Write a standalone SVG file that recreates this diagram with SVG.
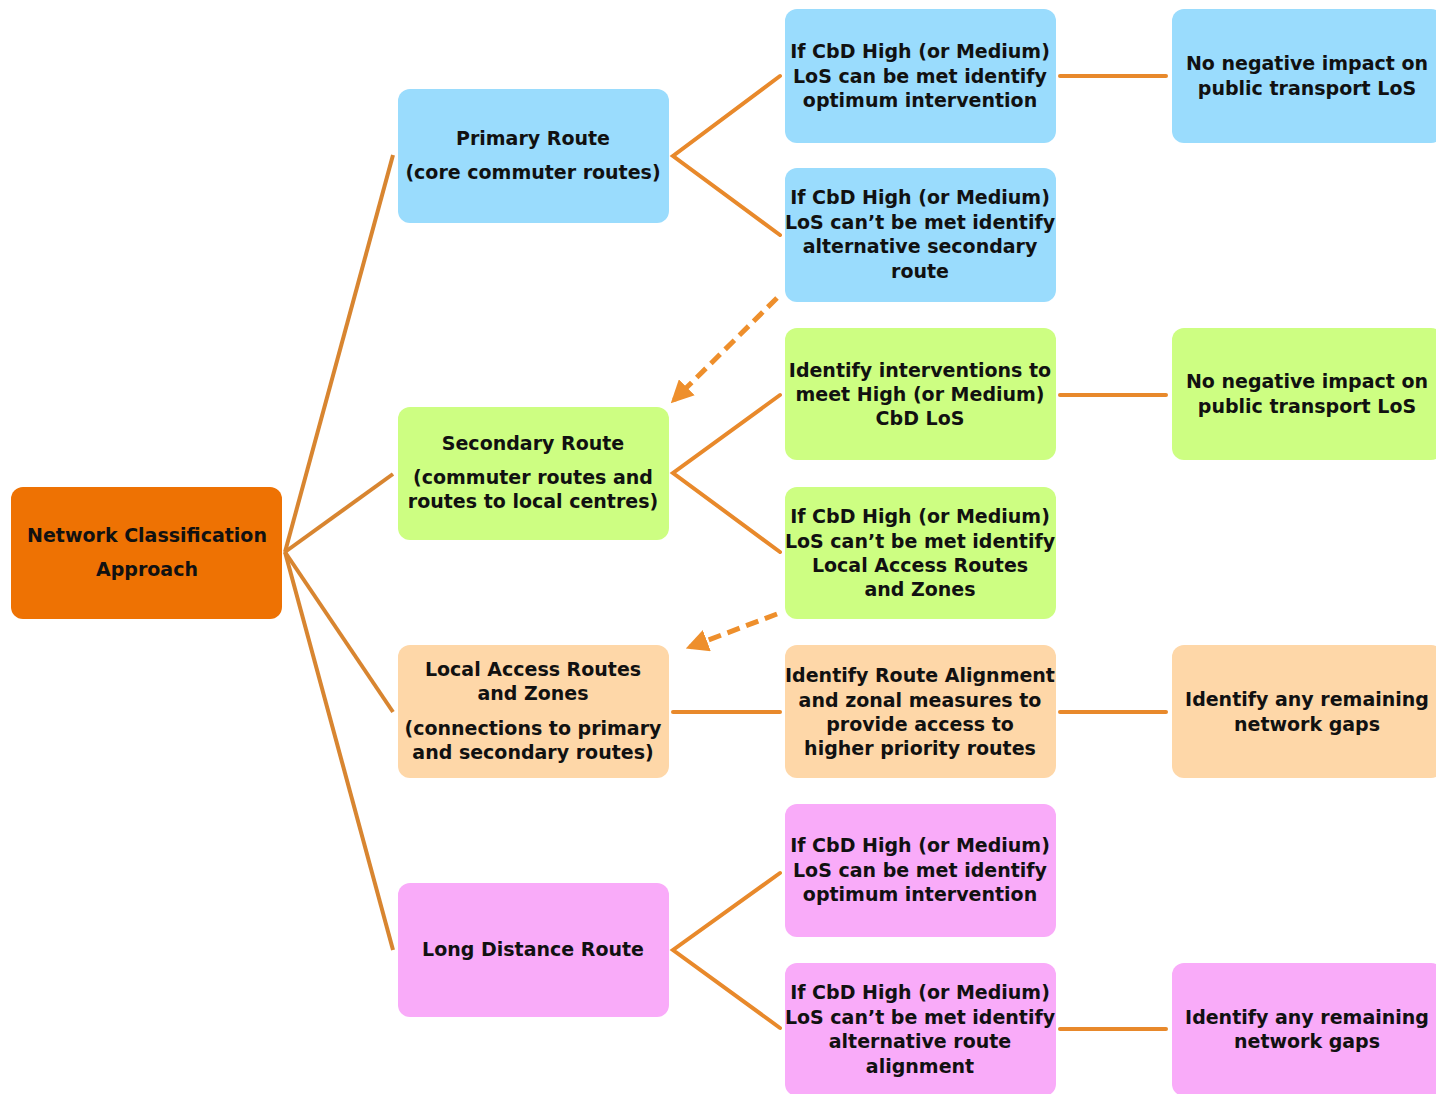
<svg xmlns="http://www.w3.org/2000/svg" width="1436" height="1094" viewBox="0 0 1436 1094">
<defs>
<style>
text{font-family:"DejaVu Sans","Liberation Sans",sans-serif;font-weight:bold;font-size:19px;fill:#111;text-anchor:middle}
.blue{fill:#9ADCFD}
.green{fill:#CDFE82}
.peach{fill:#FED7A8}
.pink{fill:#F9ABF9}
.root{fill:#EE7203}
.ln{stroke:#E8892B;stroke-width:4;fill:none;stroke-linecap:round}
.rl{stroke:#D88530;stroke-width:4;fill:none}
.dash{stroke:#EE8F2C;stroke-width:5;fill:none;stroke-dasharray:13 7}
</style>
<marker id="ah" viewBox="0 0 10 10" refX="8" refY="5" markerWidth="4.5" markerHeight="4.5" orient="auto" markerUnits="strokeWidth">
<path d="M0,0 L10,5 L0,10 Z" fill="#EE8F2C"/>
</marker>
</defs>
<rect width="1436" height="1094" fill="#fff"/>
<g id="connectors">
<line class="rl" x1="285" y1="552" x2="393" y2="155"/>
<line class="rl" x1="285" y1="552" x2="393" y2="474"/>
<line class="rl" x1="285" y1="552" x2="393" y2="712"/>
<line class="rl" x1="285" y1="552" x2="393" y2="950"/>
<polyline class="ln" points="780,76 673,156 780,235"/>
<polyline class="ln" points="780,395 673,473 780,552"/>
<line class="ln" x1="673" y1="712" x2="780" y2="712"/>
<polyline class="ln" points="780,873 673,950 780,1028"/>
<line class="ln" x1="1060" y1="76" x2="1166" y2="76"/>
<line class="ln" x1="1060" y1="395" x2="1166" y2="395"/>
<line class="ln" x1="1060" y1="712" x2="1166" y2="712"/>
<line class="ln" x1="1060" y1="1029" x2="1166" y2="1029"/>
<line class="dash" x1="777" y1="298" x2="674" y2="400" marker-end="url(#ah)"/>
<line class="dash" x1="777" y1="614" x2="690" y2="647" marker-end="url(#ah)"/>
</g>
<g id="root">
<rect class="root" x="11" y="487" width="271" height="132" rx="12"/>
<text x="147" y="542">Network Classification</text>
<text x="147" y="576">Approach</text>
</g>
<g id="primary">
<rect class="blue" x="398" y="89" width="271" height="134" rx="12"/>
<text x="533" y="145">Primary Route</text>
<text x="533" y="179">(core commuter routes)</text>
</g>
<g id="secondary">
<rect class="green" x="398" y="407" width="271" height="133" rx="12"/>
<text x="533" y="450">Secondary Route</text>
<text x="533" y="484">(commuter routes and</text>
<text x="533" y="508">routes to local centres)</text>
</g>
<g id="local">
<rect class="peach" x="398" y="645" width="271" height="133" rx="12"/>
<text x="533" y="676">Local Access Routes</text>
<text x="533" y="700">and Zones</text>
<text x="533" y="735">(connections to primary</text>
<text x="533" y="759">and secondary routes)</text>
</g>
<g id="longdistance">
<rect class="pink" x="398" y="883" width="271" height="134" rx="12"/>
<text x="533" y="956">Long Distance Route</text>
</g>
<g id="p-met">
<rect class="blue" x="785" y="9" width="271" height="134" rx="12"/>
<text x="920" y="58">If CbD High (or Medium)</text>
<text x="920" y="83">LoS can be met identify</text>
<text x="920" y="107">optimum intervention</text>
</g>
<g id="p-notmet">
<rect class="blue" x="785" y="168" width="271" height="134" rx="12"/>
<text x="920" y="204">If CbD High (or Medium)</text>
<text x="920" y="229">LoS can’t be met identify</text>
<text x="920" y="253">alternative secondary</text>
<text x="920" y="278">route</text>
</g>
<g id="s-met">
<rect class="green" x="785" y="328" width="271" height="132" rx="12"/>
<text x="920" y="377">Identify interventions to</text>
<text x="920" y="401">meet High (or Medium)</text>
<text x="920" y="425">CbD LoS</text>
</g>
<g id="s-notmet">
<rect class="green" x="785" y="487" width="271" height="132" rx="12"/>
<text x="920" y="523">If CbD High (or Medium)</text>
<text x="920" y="548">LoS can’t be met identify</text>
<text x="920" y="572">Local Access Routes</text>
<text x="920" y="596">and Zones</text>
</g>
<g id="l-align">
<rect class="peach" x="785" y="645" width="271" height="133" rx="12"/>
<text x="920" y="682">Identify Route Alignment</text>
<text x="920" y="707">and zonal measures to</text>
<text x="920" y="731">provide access to</text>
<text x="920" y="755">higher priority routes</text>
</g>
<g id="ld-met">
<rect class="pink" x="785" y="804" width="271" height="133" rx="12"/>
<text x="920" y="852">If CbD High (or Medium)</text>
<text x="920" y="877">LoS can be met identify</text>
<text x="920" y="901">optimum intervention</text>
</g>
<g id="ld-notmet">
<rect class="pink" x="785" y="963" width="271" height="133" rx="12"/>
<text x="920" y="999">If CbD High (or Medium)</text>
<text x="920" y="1024">LoS can’t be met identify</text>
<text x="920" y="1048">alternative route</text>
<text x="920" y="1073">alignment</text>
</g>
<g id="p-impact">
<rect class="blue" x="1172" y="9" width="271" height="134" rx="12"/>
<text x="1307" y="70">No negative impact on</text>
<text x="1307" y="95">public transport LoS</text>
</g>
<g id="s-impact">
<rect class="green" x="1172" y="328" width="271" height="132" rx="12"/>
<text x="1307" y="388">No negative impact on</text>
<text x="1307" y="413">public transport LoS</text>
</g>
<g id="l-gaps">
<rect class="peach" x="1172" y="645" width="271" height="133" rx="12"/>
<text x="1307" y="706">Identify any remaining</text>
<text x="1307" y="731">network gaps</text>
</g>
<g id="ld-gaps">
<rect class="pink" x="1172" y="963" width="271" height="133" rx="12"/>
<text x="1307" y="1024">Identify any remaining</text>
<text x="1307" y="1048">network gaps</text>
</g>
</svg>
